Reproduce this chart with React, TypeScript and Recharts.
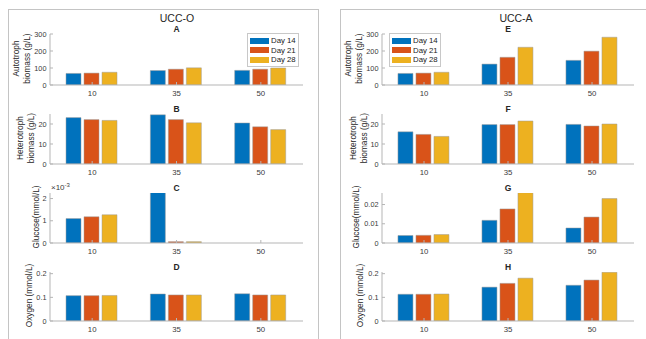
import React from "react";
import { Bar, BarChart, Legend, XAxis, YAxis } from "recharts";

// loading levels on the x axis
const categories = ["10", "35", "50"];
const days = ["Day 14", "Day 21", "Day 28"];
const colors = ["#0072BD", "#D95319", "#EDB120"];

// UCC-O
const autoO14 = [68, 85, 86];
const autoO21 = [70, 93, 93];
const autoO28 = [75, 101, 100];
const hetO14 = [23.2, 24.6, 20.5];
const hetO21 = [22.2, 22.2, 18.6];
const hetO28 = [21.8, 20.6, 17.2];
const gluO14 = [0.0011, 0.0026, 0];
const gluO21 = [0.00118, 0.00006, 0];
const gluO28 = [0.00127, 0.00006, 0];
const oxyO14 = [0.107, 0.114, 0.115];
const oxyO21 = [0.107, 0.11, 0.11];
const oxyO28 = [0.108, 0.11, 0.11];

// UCC-A
const autoA14 = [68, 123, 145];
const autoA21 = [70, 163, 199];
const autoA28 = [75, 222, 281];
const hetA14 = [16.1, 19.7, 19.8];
const hetA21 = [14.8, 19.7, 19.0];
const hetA28 = [13.8, 21.5, 20.0];
const gluA14 = [0.0039, 0.0118, 0.0078];
const gluA21 = [0.004, 0.0177, 0.0135];
const gluA28 = [0.0044, 0.0262, 0.0231];
const oxyA14 = [0.113, 0.143, 0.151];
const oxyA21 = [0.113, 0.159, 0.173];
const oxyA28 = [0.114, 0.181, 0.206];

const bioTicks = [0, 100, 200, 300];
const hetTicks = [0, 10, 20];
const gluOTicks = [0, 0.001, 0.002];
const gluATicks = [0, 0.01, 0.02];
const oxyTicks = [0, 0.1, 0.2];

const rows = (a: number[], b: number[], c: number[]) =>
  categories.map((cat, i) => ({ c: cat, d0: a[i], d1: b[i], d2: c[i] }));

const FONT = "'Liberation Sans', Arial, sans-serif";
const AXIS = "#b5b5b5";
const TXT = "#3a3a3a";
const MT = 8; // room above the plot so the top tick label is not cut

function LegendBox() {
  return (
    <div
      style={{
        border: "1px solid #c8c8c8",
        background: "#fff",
        padding: "2px 2px 1px 2px",
        fontFamily: FONT,
        fontSize: 7.8,
        color: "#222",
        lineHeight: "9.5px",
      }}
    >
      {days.map((d, i) => (
        <div key={d} style={{ display: "flex", alignItems: "center", whiteSpace: "nowrap" }}>
          <span style={{ width: 19, height: 6, background: colors[i], marginRight: 2, display: "inline-block" }} />
          {d}
        </div>
      ))}
    </div>
  );
}

type PanelProps = {
  x: number;
  y: number;
  w: number;
  h: number;
  data: any[];
  domain: [number, number];
  ticks: number[];
  fmt?: (v: number) => string;
  legendAt?: { left: number; top: number };
};

function Panel({ x, y, w, h, data, domain, ticks, fmt, legendAt }: PanelProps) {
  const yw = 30;
  return (
    <div style={{ position: "absolute", left: x - yw, top: y - MT }}>
      <BarChart
        width={yw + w + 2}
        height={MT + h + 18}
        data={data}
        margin={{ top: MT, right: 2, left: 0, bottom: 0 }}
        barCategoryGap="19%"
        barGap={3}
      >
        <XAxis
          dataKey="c"
          height={18}
          stroke={AXIS}
          tickSize={-3}
          tickMargin={8}
          tick={{ fill: TXT, fontSize: 7.8, fontFamily: FONT }}
        />
        <XAxis xAxisId="t" dataKey="c" orientation="top" height={0} stroke={AXIS} tickSize={-3} tick={false} />
        <YAxis
          width={yw}
          domain={domain}
          ticks={ticks}
          allowDataOverflow
          interval={0}
          stroke={AXIS}
          tickSize={-3}
          tickMargin={6.5}
          tickFormatter={fmt}
          tick={{ fill: TXT, fontSize: 7.3, fontFamily: FONT }}
        />
        <YAxis
          yAxisId="r"
          orientation="right"
          width={0}
          domain={domain}
          ticks={ticks}
          allowDataOverflow
          interval={0}
          stroke={AXIS}
          tickSize={-3}
          tick={false}
        />
        {legendAt && (
          <Legend
            layout="vertical"
            align="center"
            verticalAlign="middle"
            content={() => <LegendBox />}
            wrapperStyle={{ left: legendAt.left, top: legendAt.top + MT - 2, width: "auto" }}
          />
        )}
        {["d0", "d1", "d2"].map((k, i) => (
          <Bar
            key={k}
            dataKey={k}
            name={days[i]}
            fill={colors[i]}
            stroke="#9a9a9a"
            strokeWidth={0.5}
            isAnimationActive={false}
          />
        ))}
      </BarChart>
    </div>
  );
}

const LX = 50;
const RX = 382;
const PW = 253;
const rowsY = [34, 114, 193, 272];
const rowsH = [51, 50, 50, 49];

function YLabel({ x, cy, lines }: { x: number; cy: number; lines: string[] }) {
  return (
    <text
      transform={`translate(${x},${cy}) rotate(-90)`}
      textAnchor="middle"
      fontSize={8.3}
      fill="#262626"
      fontFamily={FONT}
    >
      {lines.map((l, i) => (
        <tspan key={i} x={0} dy={i === 0 ? 0 : 11.2}>
          {l}
        </tspan>
      ))}
    </text>
  );
}

export default function App() {
  const mid = (i: number) => rowsY[i] + rowsH[i] / 2 - 1;
  return (
    <div style={{ position: "absolute", left: 0, top: 0, width: 646, height: 339, background: "#fff", overflow: "hidden" }}>
      <svg width={646} height={339} style={{ position: "absolute", left: 0, top: 0 }}>
        <rect x={8.5} y={9.5} width={310} height={340} fill="none" stroke="#c4c4c4" />
        <rect x={340.5} y={9.5} width={320} height={340} fill="none" stroke="#c4c4c4" />
        <text x={177} y={22} textAnchor="middle" fontSize={10.5} fill="#262626" fontFamily={FONT}>UCC-O</text>
        <text x={516} y={22} textAnchor="middle" fontSize={10.5} fill="#262626" fontFamily={FONT}>UCC-A</text>
        {["A", "B", "C", "D"].map((t, i) => (
          <text key={t} x={LX + PW / 2} y={rowsY[i] - 2} textAnchor="middle" fontSize={8.5} fontWeight="bold" fill="#262626" fontFamily={FONT}>{t}</text>
        ))}
        {["E", "F", "G", "H"].map((t, i) => (
          <text key={t} x={RX + 126} y={rowsY[i] - 2} textAnchor="middle" fontSize={8.5} fontWeight="bold" fill="#262626" fontFamily={FONT}>{t}</text>
        ))}
        <YLabel x={18.5} cy={mid(0)} lines={["Autotroph", "biomass (g/L)"]} />
        <YLabel x={23} cy={mid(1)} lines={["Heterotroph", "biomass (g/L)"]} />
        <YLabel x={39} cy={mid(2)} lines={["Glucose(mmol/L)"]} />
        <YLabel x={32} cy={mid(3)} lines={["Oxygen (mmol/L)"]} />
        <YLabel x={350.5} cy={mid(0)} lines={["Autotroph", "biomass (g/L)"]} />
        <YLabel x={355.5} cy={mid(1)} lines={["Heterotroph", "biomass (g/L)"]} />
        <YLabel x={359} cy={mid(2)} lines={["Glucose(mmol/L)"]} />
        <YLabel x={363} cy={mid(3)} lines={["Oxygen (mmol/L)"]} />
        <text x={51} y={190} fontSize={8} fill={TXT} fontFamily={FONT}>
          ×10<tspan dy={-3} fontSize={6}>-3</tspan>
        </text>
      </svg>
      <Panel x={LX} y={rowsY[0]} w={PW} h={rowsH[0]} data={rows(autoO14, autoO21, autoO28)} domain={[0, 300]} ticks={bioTicks} legendAt={{ left: 227, top: 1 }} />
      <Panel x={LX} y={rowsY[1]} w={PW} h={rowsH[1]} data={rows(hetO14, hetO21, hetO28)} domain={[0, 25]} ticks={hetTicks} />
      <Panel x={LX} y={rowsY[2]} w={PW} h={rowsH[2]} data={rows(gluO14, gluO21, gluO28)} domain={[0, 0.00225]} ticks={gluOTicks} fmt={(v) => String(Math.round(v * 1000))} />
      <Panel x={LX} y={rowsY[3]} w={PW} h={rowsH[3]} data={rows(oxyO14, oxyO21, oxyO28)} domain={[0, 0.207]} ticks={oxyTicks} />
      <Panel x={RX} y={rowsY[0]} w={252} h={rowsH[0]} data={rows(autoA14, autoA21, autoA28)} domain={[0, 300]} ticks={bioTicks} legendAt={{ left: 37, top: 1 }} />
      <Panel x={RX} y={rowsY[1]} w={252} h={rowsH[1]} data={rows(hetA14, hetA21, hetA28)} domain={[0, 25]} ticks={hetTicks} />
      <Panel x={RX} y={rowsY[2]} w={252} h={rowsH[2]} data={rows(gluA14, gluA21, gluA28)} domain={[0, 0.026]} ticks={gluATicks} />
      <Panel x={RX} y={rowsY[3]} w={252} h={rowsH[3]} data={rows(oxyA14, oxyA21, oxyA28)} domain={[0, 0.207]} ticks={oxyTicks} />
    </div>
  );
}
